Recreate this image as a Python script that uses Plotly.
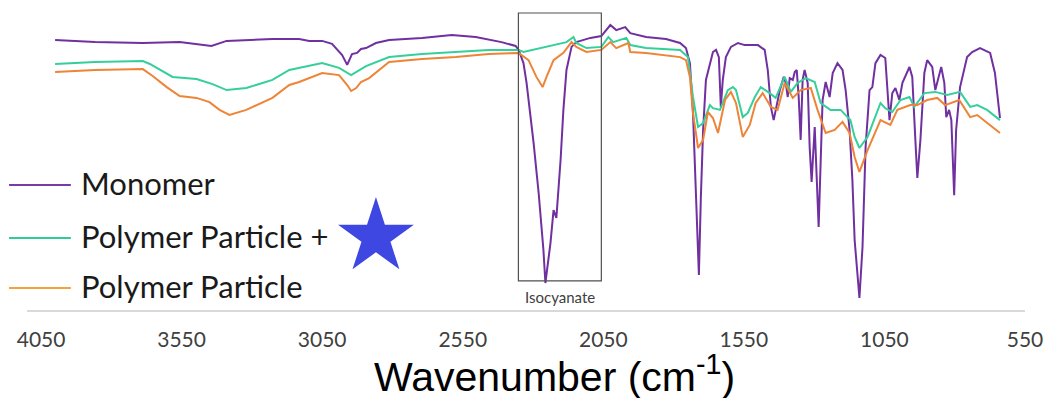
import math
import plotly.graph_objects as go

# ---------------- data (wavenumber in cm-1, transmittance in arbitrary %) ----------------
mono_wn = [4000, 3858, 3688, 3557, 3444, 3390, 3227, 3132, 3096, 3050, 3015, 2979, 2961, 2944, 2926,
           2912, 2894, 2859, 2812, 2695, 2589, 2504, 2412, 2362, 2351, 2334, 2323, 2298, 2280, 2263,
           2256, 2238, 2227, 2217, 2202, 2192, 2181, 2163, 2146, 2096, 2057, 2025, 2004, 1972, 1954,
           1898, 1827, 1777, 1756, 1742, 1731, 1720, 1710, 1703, 1695, 1685, 1671, 1660, 1649, 1639,
           1632, 1625, 1614, 1596, 1571, 1547, 1500, 1476, 1465, 1454, 1444, 1437, 1422, 1408, 1401,
           1394, 1387, 1376, 1369, 1362, 1355, 1348, 1341, 1334, 1323, 1316, 1309, 1298, 1295, 1284,
           1277, 1270, 1259, 1245, 1234, 1217, 1199, 1188, 1174, 1164, 1156, 1139, 1128, 1117, 1103,
           1093, 1082, 1064, 1047, 1036, 1032, 1022, 1011, 997, 986, 961, 951, 940, 933, 922,
           908, 898, 880, 869, 855, 848, 837, 830, 820, 812, 802, 795, 781, 756, 738,
           710, 674, 657, 639]
mono_t = [90.0, 89.3, 89.0, 89.3, 88.0, 89.7, 90.3, 90.3, 89.7, 89.7, 88.7, 85.0, 81.7, 85.3, 85.7,
          87.0, 87.3, 89.0, 90.0, 90.7, 91.7, 91.0, 89.3, 88.0, 86.7, 82.3, 75.7, 55.7, 39.0, 20.0,
          9.0, 22.3, 33.3, 30.7, 50.0, 66.7, 80.0, 87.7, 89.3, 90.7, 91.3, 95.0, 93.3, 94.3, 92.3,
          91.0, 90.3, 89.0, 87.3, 82.3, 65.7, 37.7, 11.7, 37.7, 60.0, 76.7, 82.3, 86.0, 86.7, 84.3,
          67.7, 76.7, 84.3, 87.7, 89.0, 88.3, 88.3, 86.7, 80.0, 67.7, 63.3, 66.7, 73.3, 77.7, 75.7,
          71.0, 77.3, 76.7, 79.3, 80.0, 71.0, 56.7, 76.7, 80.0, 75.7, 54.3, 42.7, 61.0, 54.3, 27.7,
          49.0, 70.0, 76.0, 71.0, 79.0, 82.3, 80.0, 73.3, 60.0, 43.3, 23.3, 4.0, 21.0, 54.3, 73.3,
          74.3, 82.3, 85.0, 84.0, 71.0, 63.3, 72.3, 74.0, 70.0, 75.7, 81.0, 77.7, 56.7, 44.0, 56.7,
          79.0, 83.3, 81.0, 73.3, 79.0, 81.0, 75.7, 64.3, 66.7, 63.3, 38.3, 60.0, 74.3, 84.3, 86.0,
          87.3, 85.7, 79.0, 64.0]

ppstar_wn = [4000, 3858, 3688, 3663, 3582, 3497, 3440, 3390, 3320, 3227, 3167, 3132, 3050, 2990, 2947,
             2894, 2812, 2695, 2575, 2458, 2362, 2351, 2334, 2274, 2217, 2181, 2156, 2146, 2110, 2057,
             2032, 2015, 1968, 1954, 1898, 1777, 1749, 1731, 1713, 1695, 1671, 1660, 1635, 1607, 1589,
             1578, 1554, 1536, 1511, 1490, 1458, 1437, 1405, 1383, 1359, 1330, 1298, 1277, 1242, 1206,
             1171, 1156, 1139, 1110, 1064, 1047, 1022, 993, 961, 944, 908, 869, 827, 781, 745,
             720, 685, 639]
ppstar_t = [82.0, 82.7, 83.0, 82.0, 77.7, 77.0, 75.3, 73.3, 74.0, 76.7, 80.0, 80.7, 82.3, 80.7, 78.3,
            81.3, 84.3, 85.3, 86.0, 86.7, 86.7, 86.7, 86.0, 87.3, 88.3, 89.3, 91.0, 89.0, 87.3, 87.7,
            91.0, 89.3, 90.7, 88.3, 87.3, 86.7, 84.3, 71.0, 61.0, 62.3, 68.3, 67.3, 66.7, 73.3, 74.3,
            73.3, 64.3, 65.7, 71.0, 74.3, 72.3, 70.7, 77.7, 72.7, 75.7, 77.3, 76.0, 69.0, 66.7, 66.7,
            63.3, 57.7, 54.0, 57.7, 69.0, 67.3, 66.0, 70.0, 71.0, 67.7, 72.3, 72.7, 71.7, 72.7, 67.7,
            68.3, 66.7, 63.3]

pp_wn = [4000, 3858, 3688, 3653, 3603, 3557, 3497, 3451, 3415, 3380, 3320, 3227, 3167, 3132, 3050,
         2990, 2961, 2947, 2929, 2912, 2883, 2848, 2812, 2695, 2575, 2458, 2351, 2341, 2316, 2288,
         2266, 2252, 2227, 2192, 2163, 2146, 2110, 2057, 2025, 2004, 1961, 1954, 1898, 1777, 1756,
         1742, 1731, 1713, 1695, 1678, 1660, 1642, 1617, 1596, 1578, 1554, 1529, 1508, 1483, 1454,
         1430, 1405, 1376, 1348, 1312, 1288, 1259, 1227, 1199, 1174, 1156, 1139, 1110, 1064, 1029,
         1004, 958, 933, 898, 862, 834, 784, 745, 720, 674, 639]
pp_t = [79.3, 80.0, 80.3, 78.0, 74.3, 71.3, 70.7, 69.3, 66.7, 65.0, 66.7, 70.7, 75.0, 76.0, 79.0,
        78.3, 75.0, 73.0, 74.0, 76.0, 77.3, 80.0, 82.7, 83.7, 84.3, 85.3, 85.7, 85.0, 83.3, 77.7,
        74.3, 77.7, 83.3, 85.7, 89.3, 87.7, 86.0, 86.7, 89.3, 87.3, 89.0, 86.0, 85.7, 84.3, 83.3,
        77.7, 65.7, 54.0, 56.7, 66.0, 64.0, 59.0, 70.0, 72.7, 69.0, 57.7, 61.7, 69.0, 72.3, 67.7,
        66.7, 75.7, 70.7, 73.3, 74.0, 66.7, 59.0, 60.0, 62.7, 59.0, 51.0, 46.0, 53.3, 63.3, 61.7,
        66.7, 68.3, 68.3, 70.0, 70.7, 68.3, 70.0, 64.3, 65.0, 61.7, 59.0]

series_names = ["Monomer", "Polymer Particle +", "Polymer Particle"]
tick_vals = [4050, 3550, 3050, 2550, 2050, 1550, 1050, 550]
box_wn = [2352, 2057]          # isocyanate region
box_t = [9.7, 99.0]
x_title = "Wavenumber (cm<sup>-1</sup>)"

# ---------------- style ----------------
W, H = 1053, 398
ML, MR, MT, MB = 27, 25, 10, 88
PW, PH = W - ML - MR, H - MT - MB
colors = ["#7030a0", "#35cf9a", "#ed8437"]
legend_colors = ["#7a3aa6", "#2fcc96", "#f2a43a"]


def px2paper(px, py):
    return (px - ML) / PW, (H - MB - py) / PH


fig = go.Figure()
for name, xs, ys, c in zip(series_names, [mono_wn, ppstar_wn, pp_wn],
                           [mono_t, ppstar_t, pp_t], colors):
    fig.add_trace(go.Scatter(x=xs, y=ys, mode="lines", name=name,
                             line=dict(color=c, width=2), showlegend=False,
                             hoverinfo="x+y+name"))

# isocyanate box
fig.add_shape(type="rect", xref="x", yref="y", x0=box_wn[0], x1=box_wn[1],
              y0=box_t[0], y1=box_t[1], line=dict(color="#505050", width=1.2))
fig.add_annotation(xref="x", yref="paper", x=(box_wn[0] + box_wn[1]) / 2, y=px2paper(0, 297)[1],
                   text="Isocyanate", showarrow=False, yanchor="middle",
                   font=dict(family="Lato", size=15, color="#404040"))

# manual legend
legend_rows = [185, 238, 288]
for name, c, py in zip(series_names, legend_colors, legend_rows):
    x0, y0 = px2paper(9, py)
    x1, _ = px2paper(71, py)
    fig.add_shape(type="line", xref="paper", yref="paper", x0=x0, x1=x1, y0=y0, y1=y0,
                  line=dict(color=c, width=2))
    tx, ty = px2paper(79, py - 2)
    fig.add_annotation(xref="paper", yref="paper", x=tx, y=ty, text=name, showarrow=False,
                       xanchor="left", yanchor="middle",
                       font=dict(family="Lato", size=31, color="#1a1a1a"))

# star symbol
cx, cy, R = 377, 237, 40
r = R * 0.382
pts = []
for k in range(10):
    ang = math.pi / 2 + k * math.pi / 5
    rad = R if k % 2 == 0 else r
    pts.append(px2paper(cx + rad * math.cos(ang), cy - rad * math.sin(ang)))
path = "M " + " L ".join(f"{a:.5f},{b:.5f}" for a, b in pts) + " Z"
fig.add_shape(type="path", xref="paper", yref="paper", path=path,
              fillcolor="#3f47e3", line=dict(color="#3f47e3", width=0))

# x-axis title (offset to the right, as in the original figure)
tx, ty = px2paper(556, 374)
fig.add_annotation(xref="paper", yref="paper", x=tx, y=ty, text=x_title, showarrow=False,
                   xanchor="center", yanchor="middle",
                   font=dict(family="Liberation Sans", size=41, color="#000000"))

fig.update_layout(
    width=W, height=H, margin=dict(l=ML, r=MR, t=MT, b=MB),
    paper_bgcolor="white", plot_bgcolor="white",
    xaxis=dict(range=[4100, 550], tickvals=tick_vals, ticktext=[str(v) for v in tick_vals],
               showgrid=False, zeroline=False, showline=True, linecolor="#d9d9d9", linewidth=1.5,
               ticks="", ticklabelstandoff=10,
               tickfont=dict(family="Lato", size=21, color="#404040")),
    yaxis=dict(range=[0, 100], visible=False),
)
fig.write_html("out.html", config={"displayModeBar": False},
               post_script="document.body.style.margin='0';document.body.style.overflow='hidden';")
